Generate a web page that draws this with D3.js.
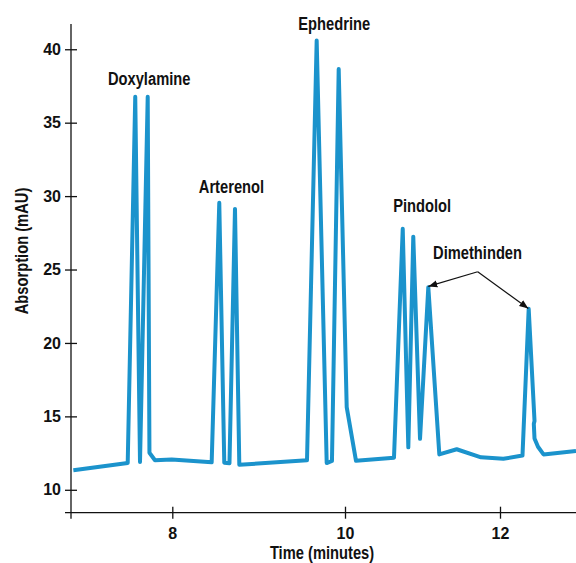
<!DOCTYPE html>
<html>
<head>
<meta charset="utf-8">
<script src="https://cdn.jsdelivr.net/npm/d3@7"></script>
<style>
  body { margin: 0; background: #fff; }
  svg text { font-family: 'Liberation Sans Narrow', 'Arial Narrow', 'Liberation Sans', sans-serif; font-weight: bold; fill: #111; }
</style>
</head>
<body>
<div id="chart"></div>
<script>
// chromatogram
const times = [6.857, 7.485, 7.572, 7.627, 7.716, 7.736, 7.80, 7.993, 8.456, 8.544, 8.602, 8.662, 8.726, 8.776,
  9.560, 9.672, 9.788, 9.849, 9.927, 10.022, 10.142, 10.632, 10.745, 10.817, 10.881, 10.968, 11.075, 11.217,
  11.441, 11.755, 12.043, 12.29, 12.37, 12.445, 12.436, 12.445, 12.49, 12.561, 12.98];
const absorb = [11.33, 11.82, 36.77, 11.89, 36.77, 12.52, 12.01, 12.07, 11.87, 29.54, 11.84, 11.80, 29.13, 11.70,
  12.01, 40.6, 11.82, 11.96, 38.65, 15.63, 11.97, 12.18, 27.77, 12.89, 27.24, 13.47, 23.80, 12.41,
  12.76, 12.21, 12.11, 12.33, 22.33, 14.69, 14.49, 13.50, 12.93, 12.41, 12.65];

const xTicks = [8, 10, 12];
const yTicks = [10, 15, 20, 25, 30, 35, 40];

// peak labels (centre time, baseline value)
const peakNames = ["Doxylamine", "Arterenol", "Ephedrine", "Pindolol", "Dimethinden"];
const peakLabelT = [7.733, 8.685, 9.875, 10.995, 11.71];
const peakLabelV = [37.6, 30.2, 41.3, 28.9, 25.7];

// Dimethinden arrows: from apex to both peaks
const arrowFrom = {t: 11.712, v: 24.85};
const arrowTo = [{t: 11.075, v: 23.85}, {t: 12.365, v: 22.35}];

const width = 576, height = 563;
const squeeze = 0.84; // the original uses a condensed face

const svg = d3.select("#chart").append("svg")
  .attr("width", width).attr("height", height);

// the time axis is not evenly spaced in the original, so use a piecewise scale
const x = d3.scaleLinear()
  .domain([6.83, 8, 10, 12, 12.98])
  .range([71, 172.3, 345, 500, 576]);
const y = d3.scaleLinear()
  .domain([8.44, 41.72])
  .range([512.7, 24]);

// axes
const xAxis = svg.append("g")
  .attr("transform", `translate(0,${y.range()[0]})`)
  .call(d3.axisBottom(x).tickValues(xTicks).tickSize(6).tickFormat(d3.format("d")));
xAxis.select(".domain").remove();
xAxis.selectAll(".tick line").attr("y1", -6).attr("stroke", "#111").attr("stroke-width", 1.3);
xAxis.selectAll(".tick text").attr("font-size", "16px").attr("dy", "1.07em");
xAxis.append("line")
  .attr("x1", x.range()[0] - 6).attr("x2", width)
  .attr("stroke", "#111").attr("stroke-width", 1.3);

const yAxis = svg.append("g")
  .attr("transform", `translate(${x.range()[0]},0)`)
  .call(d3.axisLeft(y).tickValues(yTicks).tickSize(6));
yAxis.select(".domain").remove();
yAxis.selectAll(".tick line").attr("x1", 6).attr("stroke", "#111").attr("stroke-width", 1.3);
yAxis.selectAll(".tick text").attr("font-size", "16px").attr("x", -10);
yAxis.append("line")
  .attr("y1", y.range()[1]).attr("y2", y.range()[0] + 6)
  .attr("stroke", "#111").attr("stroke-width", 1.3);

// axis titles
svg.append("text")
  .attr("transform", `translate(322,558.5) scale(${squeeze},1)`)
  .attr("text-anchor", "middle").attr("font-size", "17.5px")
  .text("Time (minutes)");
svg.append("text")
  .attr("transform", `translate(28,251) rotate(-90) scale(${squeeze},1)`)
  .attr("text-anchor", "middle").attr("font-size", "17.5px")
  .text("Absorption (mAU)");

// the trace
const pts = times.map((t, i) => [t, absorb[i]]);
svg.append("path")
  .datum(pts)
  .attr("fill", "none")
  .attr("stroke", "#1b93cc")
  .attr("stroke-width", 4)
  .attr("stroke-linejoin", "round")
  .attr("d", d3.line().x(d => x(d[0])).y(d => y(d[1])));

// peak labels
svg.selectAll(".peak-label")
  .data(peakNames)
  .enter().append("text")
  .attr("class", "peak-label")
  .attr("transform", (d, i) => `translate(${x(peakLabelT[i])},${y(peakLabelV[i])}) scale(${squeeze},1)`)
  .attr("text-anchor", "middle")
  .attr("font-size", "17.5px")
  .text(d => d);

// arrows
svg.append("defs").append("marker")
  .attr("id", "arrow")
  .attr("viewBox", "0 0 10 10")
  .attr("refX", 10).attr("refY", 5)
  .attr("markerWidth", 9).attr("markerHeight", 9)
  .attr("markerUnits", "userSpaceOnUse")
  .attr("orient", "auto")
  .append("path").attr("d", "M0,1 L10,5 L0,9 Z").attr("fill", "#111");

svg.selectAll(".arrow")
  .data(arrowTo)
  .enter().append("line")
  .attr("class", "arrow")
  .attr("x1", x(arrowFrom.t)).attr("y1", y(arrowFrom.v))
  .attr("x2", d => x(d.t)).attr("y2", d => y(d.v))
  .attr("stroke", "#111").attr("stroke-width", 1.2)
  .attr("marker-end", "url(#arrow)");
</script>
</body>
</html>
